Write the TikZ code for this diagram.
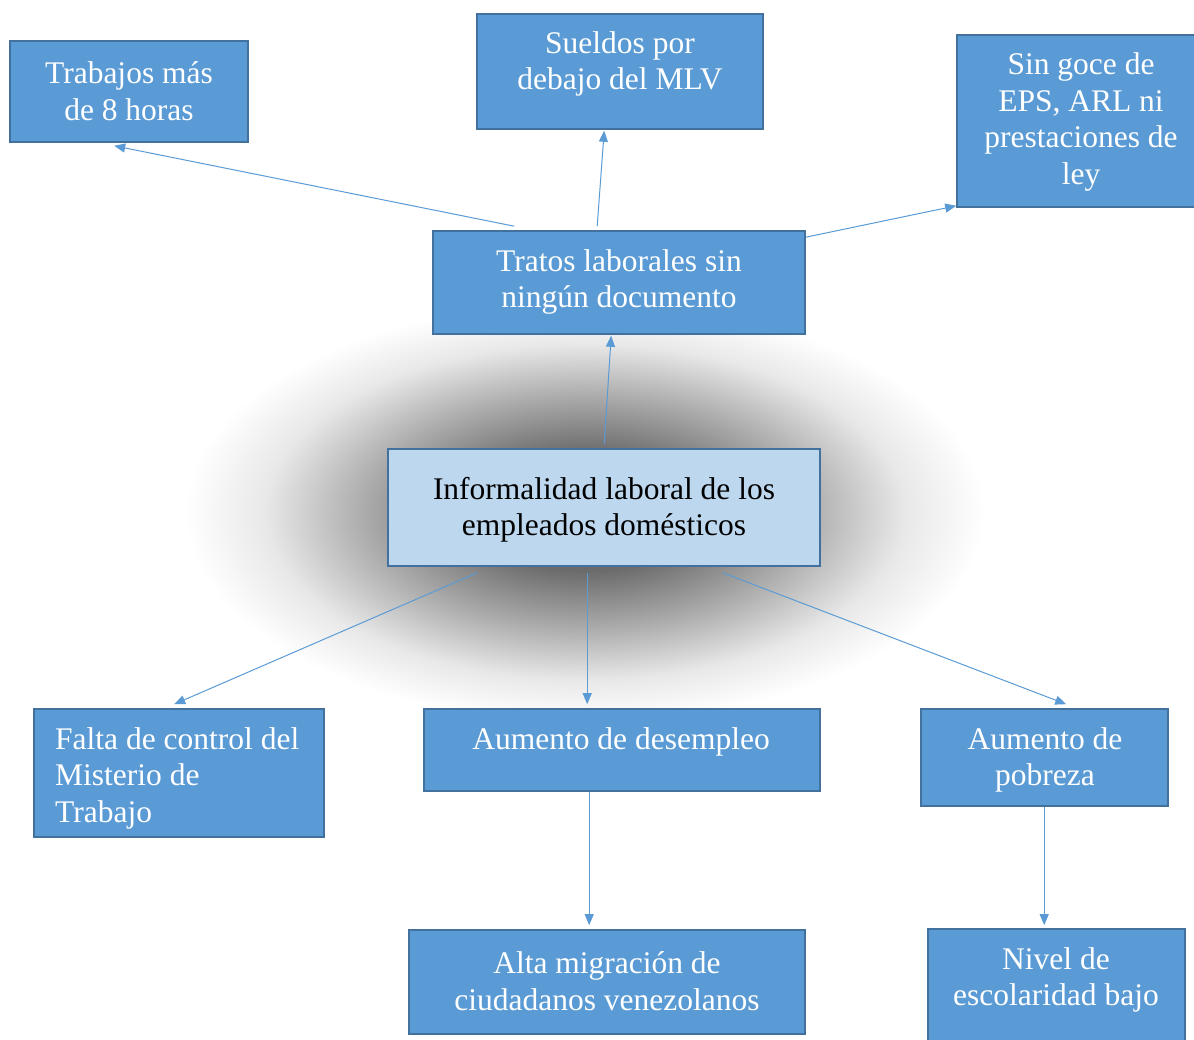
\documentclass[tikz,border=0pt]{standalone}
\usepackage{fontspec}
\setmainfont{Liberation Serif}
\usetikzlibrary{arrows.meta}
\definecolor{boxfill}{HTML}{5B9BD5}
\definecolor{boxline}{HTML}{41719C}
\definecolor{lightfill}{HTML}{BDD7EE}
\definecolor{arrcol}{HTML}{5B9BD5}
\pgfdeclareradialshading{blurshadow}{\pgfpoint{0bp}{0bp}}{color(0bp)=(black!64); color(7bp)=(black!58); color(14bp)=(black!32); color(20bp)=(black!9); color(25bp)=(white); color(50bp)=(white)}
\begin{document}
\begin{tikzpicture}[x=1pt,y=-1pt,
  box/.style={draw=boxline, line width=1.6pt, fill=boxfill, inner sep=0pt},
  cbox/.style={draw=boxline, line width=1.6pt, fill=lightfill, inner sep=0pt},
  txt/.style={text=white, align=center, inner sep=0pt, font=\fontsize{31.5}{36.5}\selectfont},
  ctxt/.style={text=black, align=center, inner sep=0pt, font=\fontsize{31.5}{36.5}\selectfont},
  arr/.style={draw=arrcol, line width=1pt, -{Triangle[length=11pt,width=9pt]}}]
\useasboundingbox (0,0) rectangle (1194,1040);
\fill[white] (0,0) rectangle (1194,1040);
% blurred shadow
\shade[shading=blurshadow, draw=none] (585,512) ellipse [x radius=400, y radius=210];
% boxes
\node[box, minimum width=238pt, minimum height=101pt] (trabajos) at (129,91.5) {};
\node[box, minimum width=286pt, minimum height=115pt] (sueldos) at (620,71.5) {};
\node[box, minimum width=240pt, minimum height=172pt] (singoce) at (1077,121) {};
\node[box, minimum width=372pt, minimum height=103pt] (tratos) at (619,282.5) {};
\node[cbox, minimum width=432pt, minimum height=117pt] (inf) at (604,507.5) {};
\node[box, minimum width=290pt, minimum height=128pt] (falta) at (179,773) {};
\node[box, minimum width=396pt, minimum height=82pt] (desempleo) at (622,750) {};
\node[box, minimum width=247pt, minimum height=97pt] (pobreza) at (1044.5,757.5) {};
\node[box, minimum width=396pt, minimum height=104pt] (alta) at (607,982) {};
\node[box, minimum width=257pt, minimum height=120pt] (nivel) at (1056.5,989) {};
% texts
\node[txt] (trabajosT) at (129,91) {Trabajos más\\de 8 horas};
\node[txt] (sueldosT) at (620,64) {Sueldos por\\debajo del MLV};
\node[txt] (singoceT) at (1081,122) {Sin goce de\\EPS, ARL ni\\prestaciones de\\ley};
\node[txt] (tratosT) at (619,282) {Tratos laborales sin\\ningún documento};
\node[ctxt] (infT) at (604,510) {Informalidad laboral de los\\empleados domésticos};
\node[txt, align=left, anchor=west] (faltaT) at (55,778) {Falta de control del\\Misterio de\\Trabajo};
\node[txt] (desempleoT) at (621,742) {Aumento de desempleo};
\node[txt] (pobrezaT) at (1045,760) {Aumento de\\pobreza};
\node[txt] (altaT) at (607,981) {Alta migración de\\ciudadanos venezolanos};
\node[txt] (nivelT) at (1056,980) {Nivel de\\escolaridad bajo};
% connectors
\draw[arr] ([xshift=82pt,yshift=4pt]tratos.north west) -- ([xshift=105pt,yshift=-3pt]trabajos.south west);
\draw[arr] ([xshift=165pt,yshift=4pt]tratos.north west) -- ([xshift=128pt,yshift=-1pt]sueldos.south west);
\draw[arr] ([yshift=-7pt]tratos.north east) -- ([yshift=2pt]singoce.south west);
\draw[arr] ([xshift=217pt,yshift=4pt]inf.north west) -- ([xshift=179pt,yshift=-1pt]tratos.south west);
\draw[arr] ([xshift=90pt,yshift=-6pt]inf.south west) -- ([xshift=141pt,yshift=4pt]falta.north west);
\draw[arr] ([xshift=200pt,yshift=-6pt]inf.south west) -- ([xshift=164pt,yshift=4pt]desempleo.north west);
\draw[arr] ([xshift=-98pt,yshift=-6pt]inf.south east) -- ([xshift=146pt,yshift=4pt]pobreza.north west);
\draw[arr] ([xshift=166pt]desempleo.south west) -- ([xshift=181pt,yshift=4pt]alta.north west);
\draw[arr] ([xshift=124pt]pobreza.south west) -- ([xshift=117pt,yshift=3pt]nivel.north west);
\end{tikzpicture}
\end{document}
